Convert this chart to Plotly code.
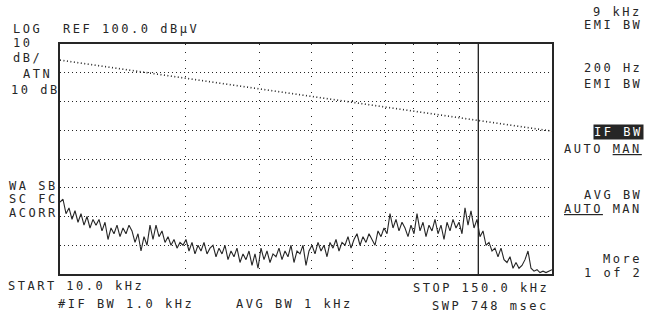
import numpy as np
import plotly.graph_objects as go

start_khz = 10.0
stop_khz = 150.0
ref_level = 100.0          # dBuV, top of screen
bottom_level = 20.0        # dBuV, bottom of screen (8 div x 10 dB)
grid_db = [30, 40, 50, 60, 70, 80, 90]
grid_khz = [20, 30, 40, 50, 60, 70, 80, 90]
decade_khz = [100, 100]
decade_db = [20, 100]

limit_khz = [10.0, 150.0]
limit_db = [94.4, 69.7]

trace_db = [
    45, 46, 41, 43, 39, 42, 38, 41, 37, 40, 36, 39, 37, 39, 35, 38, 32, 36, 34, 37,
    33, 36, 34, 37, 35, 31, 34, 28, 33, 30, 37, 32, 37, 33, 35, 31, 33, 30, 32, 29,
    31, 30, 32, 28, 31, 27, 30, 28, 31, 27, 29, 30, 26, 29, 27, 30, 25, 28, 26, 29,
    24, 27, 25, 28, 23, 27, 22, 29, 25, 28, 24, 27, 26, 29, 25, 28, 26, 30, 24, 28,
    27, 30, 23, 28, 30, 27, 31, 28, 30, 26, 31, 29, 32, 28, 31, 30, 33, 29, 32, 34,
    30, 33, 31, 34, 32, 30, 35, 33, 36, 34, 41, 36, 39, 35, 38, 36, 33, 37, 34, 41,
    35, 38, 33, 37, 35, 39, 34, 37, 32, 38, 35, 39, 36, 38, 34, 43, 37, 42, 36, 39,
    33, 35, 30, 31, 28, 29, 26, 29, 25, 24, 26, 22, 24, 22, 23, 25, 28, 22, 21, 21.5,
    20.5, 21, 20.5, 21, 21.5,
]
# sweep points, evenly spaced on the log frequency axis
trace_khz = np.geomspace(start_khz, stop_khz, len(trace_db))

INK = "#262626"
FONT = "DejaVu Sans Mono"

W, H = 646, 315
ML, MR, MT, MB = 60, 94, 44, 41
PW, PH = W - ML - MR, H - MT - MB

fig = go.Figure()
fig.add_trace(go.Scatter(x=limit_khz, y=limit_db, mode="lines",
                         line=dict(color=INK, width=1.6, dash="1px,2.5px"),
                         hoverinfo="skip"))
fig.add_trace(go.Scatter(x=decade_khz, y=decade_db, mode="lines",
                         line=dict(color=INK, width=1.4), hoverinfo="skip"))
fig.add_trace(go.Scatter(x=trace_khz, y=trace_db, mode="lines",
                         line=dict(color=INK, width=1.1), hoverinfo="skip"))


def ls(t, sp=2.5):
    return f"<span style='letter-spacing:{sp}px'>{t}</span>"


def ann(text, xpx, ypx, anchor="left", **kw):
    fig.add_annotation(
        text=ls(text), xref="paper", yref="paper",
        x=(xpx - ML) / PW, y=(H - MB - ypx) / PH,
        xanchor=anchor, yanchor="middle", showarrow=False,
        font=dict(family=FONT, size=12, color=INK), **kw)


ann("LOG", 11, 29)
ann("REF 100.0 dBµV", 61, 29)
ann("10", 11, 43)
ann("dB/", 11, 58)
ann("ATN", 21, 74)
ann("10 dB", 9, 90)
ann("WA SB", 7, 186)
ann("SC FC", 7, 199)
ann("ACORR", 7, 213)
ann("START 10.0 kHz", 6, 286)
ann("#IF BW 1.0 kHz", 56, 304)
ann("AVG BW 1 kHz", 234, 304)
ann("STOP 150.0 kHz", 551, 288, anchor="right")
ann("SWP 748 msec", 551, 306, anchor="right")

RX = 644
ann("9 kHz", RX, 12, anchor="right")
ann("EMI BW", RX, 25, anchor="right")
ann("200 Hz", RX, 68, anchor="right")
ann("EMI BW", RX, 84, anchor="right")
fig.add_annotation(
    text=ls("IF BW"), xref="paper", yref="paper",
    x=(RX - ML) / PW, y=(H - MB - 132) / PH, xanchor="right", yanchor="middle",
    showarrow=False, bgcolor=INK, borderpad=0,
    font=dict(family=FONT, size=12, color="white"))
ann("AUTO <span style='text-decoration:underline'>MAN</span>", RX, 149, anchor="right")
ann("AVG BW", RX, 195, anchor="right")
ann("<span style='text-decoration:underline'>AUTO</span> MAN", RX, 209, anchor="right")
ann("More", RX, 259, anchor="right")
ann("1 of 2", RX, 273, anchor="right")

fig.update_layout(
    width=W, height=H, margin=dict(l=ML, r=MR, t=MT, b=MB),
    paper_bgcolor="white", plot_bgcolor="white", showlegend=False,
    xaxis=dict(type="log", range=[np.log10(start_khz), np.log10(stop_khz)],
               tickvals=grid_khz, showticklabels=False, ticks="",
               showgrid=True, gridcolor=INK, gridwidth=1.3, griddash="1px,7px",
               showline=True, linecolor=INK, linewidth=1.6, mirror=True,
               zeroline=False, fixedrange=True),
    yaxis=dict(range=[bottom_level, ref_level], tickvals=grid_db,
               showticklabels=False, ticks="",
               showgrid=True, gridcolor=INK, gridwidth=1.3, griddash="1px,3px",
               showline=True, linecolor=INK, linewidth=1.6, mirror=True,
               zeroline=False, fixedrange=True),
)

fig.write_html(
    "out.html",
    config={"displayModeBar": False},
    post_script="document.body.style.margin='0';document.body.style.padding='0';"
                "document.body.style.overflow='hidden';",
)
